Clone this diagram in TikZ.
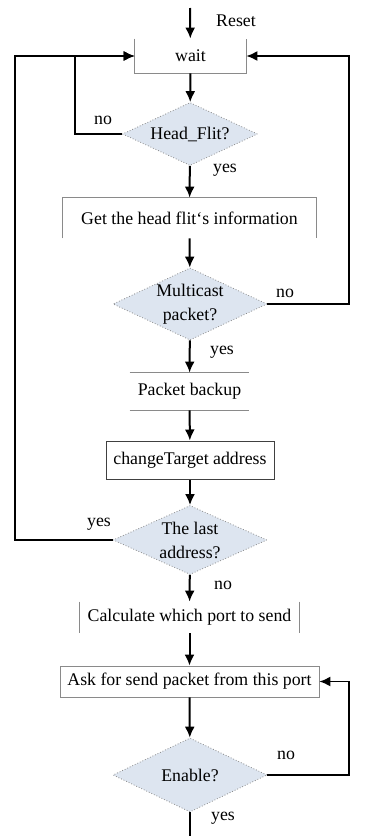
\documentclass[tikz,border=0pt]{standalone}
\usepackage{fontspec}
\setmainfont{Liberation Serif}
\usetikzlibrary{shapes.geometric, arrows.meta}
\definecolor{decisionblue}{HTML}{DDE5F0}
\definecolor{edgegray}{HTML}{8A8A8A}

\begin{document}
\begin{tikzpicture}[x=0.5pt, y=-0.5pt, font=\fontsize{8.9}{12}\selectfont,
  procbox/.style={rectangle, inner sep=0pt, align=center},
  decision/.style={diamond, aspect=2.1, inner sep=0pt, align=center, draw=edgegray, densely dotted, fill=decisionblue},
  flow/.style={line width=1pt, -{Latex[length=5.5pt,width=5pt]}},
  loopline/.style={line width=0.8pt, -{Latex[length=5.5pt,width=5pt]}},
  edge/.style={line width=0.4pt, draw=edgegray},
  lbl/.style={inner sep=0pt}]
\useasboundingbox (0,0) rectangle (369,836);
% fixed points of the flow
\coordinate (start) at (190,8);
\coordinate (finish) at (190,836);
\coordinate (innerx) at (75,0);
\coordinate (outerl) at (15,0);
\coordinate (outerr) at (349,0);
% steps and decisions
\node[procbox, minimum width=55.5pt, minimum height=17pt] (wait) at (190.5,56) {wait};
\node[decision, aspect=2.14, minimum width=67.5pt, minimum height=31.5pt] (head) at (190,134) {Head\_Flit?};
\node[procbox, minimum width=126.5pt, minimum height=20pt] (info) at (189.5,218) {Get the head flit`s information};
\node[decision, minimum width=77pt, minimum height=36pt] (multi) at (190,304) {Multicast\\packet?};
\node[procbox, minimum width=59.5pt, minimum height=18.5pt] (backup) at (189.5,391.5) {Packet backup};
\node[procbox, draw=black!75, line width=0.5pt, minimum width=84pt, minimum height=19pt] (change) at (190,460) {changeTarget address};
\node[decision, minimum width=77pt, minimum height=34.5pt] (last) at (190,540) {The last\\address?};
\node[procbox, minimum width=109.5pt, minimum height=15.5pt] (calc) at (189.5,617.5) {Calculate which port to send};
\node[procbox, draw=edgegray, line width=0.4pt, minimum width=129.5pt, minimum height=15.5pt] (ask) at (189.5,681.5) {Ask for send packet from this port};
\node[decision, minimum width=77pt, minimum height=37pt] (enable) at (190,775) {Enable?};
% open box edges
\draw[edge] (wait.north west) -- (wait.south west) -- (wait.south east) -- (wait.north east);
\draw[edge] (info.south west) -- (info.north west) -- (info.north east) -- (info.south east);
\draw[edge] (backup.north west) -- (backup.north east) (backup.south west) -- (backup.south east);
\draw[edge] (calc.north west) -- (calc.south west) (calc.north east) -- (calc.south east);
% main flow
\draw[flow] (start) -- (wait);
\draw[flow] (wait) -- (head);
\draw[flow] (head) -- (info);
\draw[flow] (info) -- (multi);
\draw[flow] (multi) -- (backup);
\draw[flow] (backup) -- (change);
\draw[flow] (change) -- (last);
\draw[flow] (last) -- (calc);
\draw[flow] (calc) -- (ask);
\draw[flow] (ask) -- (enable);
\draw[line width=1pt] (enable) -- (finish);
% loops back
\draw[loopline] (head.west) -- (head.west -| innerx) |- (wait.west);
\draw[loopline] (last.west) -- (last.west -| outerl) |- (wait.west);
\draw[loopline] (multi.east) -- (multi.east -| outerr) |- (wait.east);
\draw[loopline] (enable.east) -- (enable.east -| outerr) |- (ask.east);
% labels
\node[lbl] (reset) at (236,21) {Reset};
\node[lbl] (nohead) at (103,120) {no};
\node[lbl] (yeshead) at (225,170) {yes};
\node[lbl] (nomulti) at (285,293) {no};
\node[lbl] (yesmulti) at (222,352) {yes};
\node[lbl] (yeslast) at (99,524) {yes};
\node[lbl] (nolast) at (223,585) {no};
\node[lbl] (noenable) at (286,755) {no};
\node[lbl] (yesenable) at (223,818) {yes};
\end{tikzpicture}
\end{document}
